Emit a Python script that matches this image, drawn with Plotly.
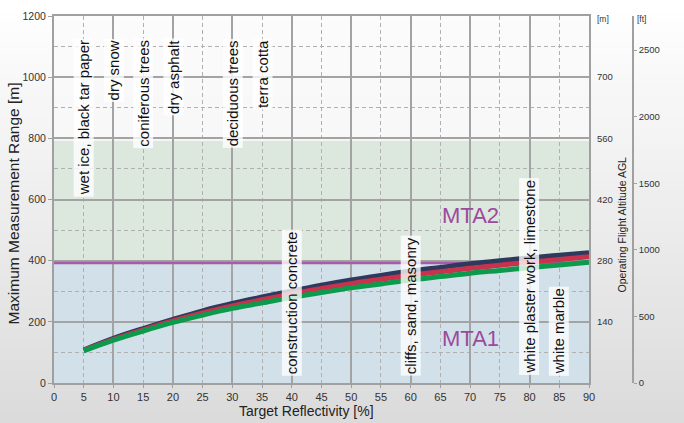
import plotly.graph_objects as go

# ---------------- data ----------------
REFLECTIVITY = [5, 10, 15, 20, 25, 30, 35, 40, 45, 50, 55, 60, 65, 70, 75, 80, 85, 90]
RANGE_NAVY = [108, 146, 178, 208, 236, 260, 281, 301, 320, 337, 352, 366, 378, 390, 400, 409, 418, 426]
RANGE_RED = [107, 143, 174, 203, 229, 252, 272, 291, 309, 325, 339, 352, 364, 375, 385, 395, 404, 413]
RANGE_GREEN = [105, 140, 170, 198, 222, 244, 262, 280, 296, 311, 324, 337, 348, 359, 368, 377, 386, 395]

X_TICKS = list(range(0, 95, 5))
Y_TICKS = [0, 200, 400, 600, 800, 1000, 1200]
ALT_M_TICKS = [140, 280, 420, 560, 700]
ALT_FT_TICKS = [0, 500, 1000, 1500, 2000, 2500]

MTA1_MAX = 392
MTA2_MAX = 792

TOP_LABELS = ["wet ice, black tar paper", "dry snow", "coniferous trees",
              "dry asphalt", "deciduous trees", "terra cotta"]
TOP_LABEL_X = [5, 10, 15, 20, 30, 35]
BOTTOM_LABELS = ["construction concrete", "cliffs, sand, masonry",
                 "white plaster work, limestone", "white marble"]
BOTTOM_LABEL_X = [40, 60, 80, 85]

X_MAX = 90
Y_MAX = 1200
AGL_PER_RANGE = 0.7
M_PER_FT = 0.3048

# ---------------- layout geometry ----------------
W, H = 684, 423
ML, MR, MT, MB = 54, 51, 16, 40
PW = W - ML - MR
PH = H - MT - MB
PLOT_RIGHT_PX = 589
DOM_END = (PLOT_RIGHT_PX - ML) / PW

def px_x(px):
    return (px - ML) / PW

def px_y(py):
    return (H - MB - py) / PH

FONT = "Liberation Sans, Arial, sans-serif"
GRID = "#a3a3a3"
MINOR = "#b0b0b0"
FRAME = "#a0a0a0"
PURPLE = "#9b4a9c"

fig = go.Figure()

fig.add_trace(go.Scatter(x=REFLECTIVITY, y=RANGE_NAVY, mode="lines",
                         line=dict(color="#2d3a5e", width=5, shape="spline"),
                         showlegend=False, hoverinfo="skip"))
fig.add_trace(go.Scatter(x=REFLECTIVITY, y=RANGE_RED, mode="lines",
                         line=dict(color="#c8324c", width=5, shape="spline"),
                         showlegend=False, hoverinfo="skip"))
fig.add_trace(go.Scatter(x=REFLECTIVITY, y=RANGE_GREEN, mode="lines",
                         line=dict(color="#0c9a4c", width=5, shape="spline"),
                         showlegend=False, hoverinfo="skip"))
# anchors for secondary axes (no visible marks)
fig.add_trace(go.Scatter(x=[None], y=[None], xaxis="x2", yaxis="y2",
                         showlegend=False, hoverinfo="skip"))
fig.add_trace(go.Scatter(x=[None], y=[None], xaxis="x", yaxis="y3",
                         showlegend=False, hoverinfo="skip"))

shapes = []
# background vertical gradient over whole figure
N = 40
y_bot = px_y(H)
y_top = px_y(0)
for i in range(N):
    t = (i + 0.5) / N
    c = int(round(219 + (255 - 219) * t))
    shapes.append(dict(type="rect", xref="paper", yref="paper",
                       x0=px_x(0), x1=px_x(W),
                       y0=y_bot + (y_top - y_bot) * i / N,
                       y1=y_bot + (y_top - y_bot) * (i + 1) / N + 0.002,
                       fillcolor=f"rgb({c},{c},{c})", line=dict(width=0),
                       layer="below"))
# MTA bands
shapes.append(dict(type="rect", xref="x", yref="y", x0=0, x1=X_MAX, y0=0, y1=MTA1_MAX,
                   fillcolor="#d2e0ea", line=dict(width=0), layer="below"))
shapes.append(dict(type="rect", xref="x", yref="y", x0=0, x1=X_MAX, y0=MTA1_MAX, y1=MTA2_MAX,
                   fillcolor="#dce7dd", line=dict(width=0), layer="below"))
shapes.append(dict(type="rect", xref="x", yref="y", x0=0, x1=X_MAX, y0=MTA2_MAX, y1=Y_MAX,
                   fillcolor="rgba(250,250,250,0.6)", line=dict(width=0), layer="below"))
# MTA1 limit line
shapes.append(dict(type="line", xref="x", yref="y", x0=0, x1=X_MAX, y0=MTA1_MAX, y1=MTA1_MAX,
                   line=dict(color="#a65ca8", width=2.5), layer="between"))

annotations = []
for lab, xv in zip(TOP_LABELS, TOP_LABEL_X):
    annotations.append(dict(x=xv, y=1128, xref="x", yref="y", text=lab, textangle=-90,
                            showarrow=False, xanchor="center", yanchor="top",
                            font=dict(family=FONT, size=15, color="#111"),
                            bgcolor="rgba(255,255,255,0.78)", borderpad=1))
for lab, xv in zip(BOTTOM_LABELS, BOTTOM_LABEL_X):
    annotations.append(dict(x=xv, y=23, xref="x", yref="y", text=lab, textangle=-90,
                            showarrow=False, xanchor="center", yanchor="bottom",
                            font=dict(family=FONT, size=15, color="#111"),
                            bgcolor="rgba(255,255,255,0.78)", borderpad=1))
annotations.append(dict(x=70, y=548, xref="x", yref="y", text="MTA2", showarrow=False,
                        xanchor="center", yanchor="middle",
                        font=dict(family=FONT, size=22, color=PURPLE)))
annotations.append(dict(x=70, y=145, xref="x", yref="y", text="MTA1", showarrow=False,
                        xanchor="center", yanchor="middle",
                        font=dict(family=FONT, size=22, color=PURPLE)))

def paper_text(px, py, text, size, angle=0, color="#222"):
    return dict(x=px_x(px), y=px_y(py), xref="paper", yref="paper", text=text,
                textangle=angle, showarrow=False, xanchor="center", yanchor="middle",
                font=dict(family=FONT, size=size, color=color))

# axis titles
annotations.append(paper_text(12.5, 204, "Maximum Measurement Range [m]", 15.5, -90))
annotations.append(paper_text(306, 411, "Target Reflectivity [%]", 14))
annotations.append(paper_text(621.5, 225, "Operating Flight Altitude AGL", 10.5, -90))
annotations.append(paper_text(603, 19, "[m]", 8.5, 0, "#333"))
annotations.append(paper_text(641, 19, "[ft]", 8.5, 0, "#333"))

fig.update_layout(
    width=W, height=H,
    margin=dict(l=ML, r=MR, t=MT, b=MB, pad=0),
    paper_bgcolor="white",
    plot_bgcolor="rgba(0,0,0,0)",
    font=dict(family=FONT, color="#333"),
    showlegend=False,
    shapes=shapes,
    annotations=annotations,
    xaxis=dict(domain=[0, DOM_END], range=[0, X_MAX], dtick=10, tick0=0,
               showticklabels=False, ticks="", showgrid=True, gridcolor=GRID, gridwidth=1.5,
               minor=dict(dtick=5, tick0=0, showgrid=True, gridcolor=MINOR, gridwidth=1,
                          griddash="4px,3px"),
               showline=True, mirror=True, linecolor=FRAME, linewidth=2,
               zeroline=False, anchor="y", automargin=False, fixedrange=True),
    xaxis2=dict(overlaying="x", anchor="y", side="bottom", range=[0, X_MAX],
                tickmode="array", tickvals=X_TICKS, ticktext=[str(v) for v in X_TICKS],
                ticks="outside", ticklen=4, tickcolor=FRAME, showgrid=False,
                showline=False, zeroline=False,
                tickfont=dict(family=FONT, size=11, color="#333"), automargin=False),
    yaxis=dict(domain=[0, 1], range=[0, Y_MAX], tickmode="array", tickvals=Y_TICKS,
               ticks="outside", ticklen=4, tickcolor=FRAME, showgrid=True, gridcolor=GRID,
               gridwidth=1.5,
               minor=dict(dtick=100, tick0=0, showgrid=True, gridcolor=MINOR, gridwidth=1,
                          griddash="4px,3px"),
               showline=True, mirror=True, linecolor=FRAME, linewidth=2, zeroline=False,
               tickfont=dict(family=FONT, size=10.5, color="#333"), anchor="x",
               automargin=False),
    yaxis2=dict(overlaying="y", anchor="x", side="right", range=[0, Y_MAX * AGL_PER_RANGE],
                tickmode="array", tickvals=ALT_M_TICKS, ticks="", showgrid=False,
                zeroline=False, showline=False, ticklabelstandoff=7,
                tickfont=dict(family=FONT, size=9.5, color="#333"), automargin=False),
    yaxis3=dict(overlaying="y", anchor="free", position=1, side="right",
                range=[0, Y_MAX * AGL_PER_RANGE / M_PER_FT],
                tickmode="array", tickvals=ALT_FT_TICKS, ticks="outside", ticklen=3,
                tickcolor=FRAME, showgrid=False, zeroline=False, showline=True,
                linecolor=FRAME, linewidth=1.5,
                tickfont=dict(family=FONT, size=9.5, color="#333"), automargin=False),
)

fig.write_html("out.html", config={"displayModeBar": False},
               post_script="document.body.style.margin='0';document.body.style.overflow='hidden';")
